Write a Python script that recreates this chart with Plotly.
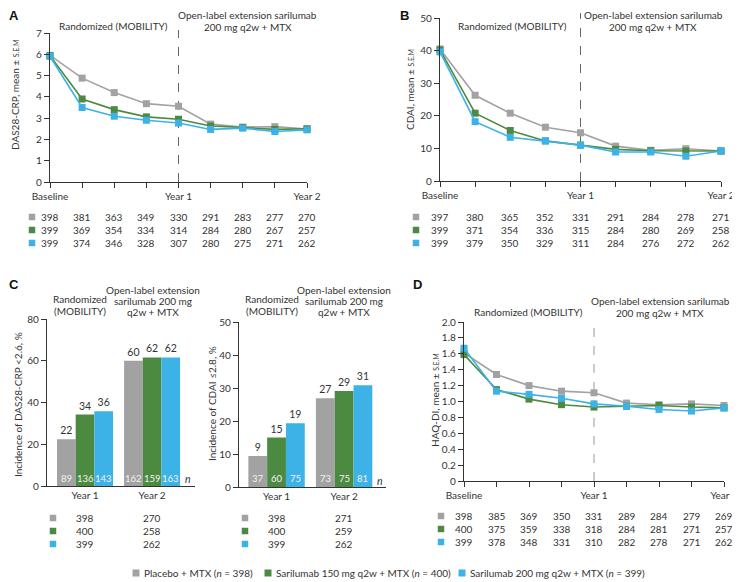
import plotly.graph_objects as go

# The page body adds an 8 px offset; the figure is sized so that it ends at the viewport edge.
OFF = 8
W, H = 740 - OFF, 582 - OFF
FONT = "Lato"
TXT = "#333333"

# ---------------- data ----------------
timepoints = list(range(9))
x_ticktext = ["Baseline", "", "", "", "Year 1", "", "", "", "Year 2"]
year1_idx = 4
groups = ["Placebo + MTX", "Sarilumab 150 mg q2w + MTX", "Sarilumab 200 mg q2w + MTX"]
group_n = [398, 400, 399]
colors = ["#a2a2a2", "#4d8a41", "#3db2e6"]

das_placebo = [5.95, 4.88, 4.20, 3.68, 3.56, 2.72, 2.58, 2.60, 2.49]
das_s150 = [5.93, 3.90, 3.40, 3.06, 2.95, 2.63, 2.56, 2.47, 2.50]
das_s200 = [5.90, 3.50, 3.09, 2.90, 2.77, 2.47, 2.53, 2.37, 2.45]

cdai_placebo = [40.5, 26.3, 20.8, 16.5, 14.8, 10.7, 9.4, 9.9, 9.2]
cdai_s150 = [40.2, 20.8, 15.5, 12.3, 11.0, 9.7, 9.3, 9.2, 9.2]
cdai_s200 = [39.6, 18.2, 13.4, 12.3, 11.0, 8.9, 8.9, 7.6, 9.2]

haq_placebo = [1.61, 1.34, 1.20, 1.13, 1.11, 0.98, 0.96, 0.97, 0.95]
haq_s150 = [1.59, 1.15, 1.03, 0.96, 0.93, 0.94, 0.95, 0.93, 0.92]
haq_s200 = [1.67, 1.13, 1.09, 1.04, 0.97, 0.94, 0.90, 0.88, 0.92]

n_das_placebo = [398, 381, 363, 349, 330, 291, 283, 277, 270]
n_das_s150 = [399, 369, 354, 334, 314, 284, 280, 267, 257]
n_das_s200 = [399, 374, 346, 328, 307, 280, 275, 271, 262]

n_cdai_placebo = [397, 380, 365, 352, 331, 291, 284, 278, 271]
n_cdai_s150 = [399, 371, 354, 336, 315, 284, 280, 269, 258]
n_cdai_s200 = [399, 379, 350, 329, 311, 284, 276, 272, 262]

n_haq_placebo = [398, 385, 369, 350, 331, 289, 284, 279, 269]
n_haq_s150 = [400, 375, 359, 338, 318, 284, 281, 271, 257]
n_haq_s200 = [399, 378, 348, 331, 310, 282, 278, 271, 262]

bar_years = ["Year 1", "Year 2"]
bar_x = [0, 1]
rem_das_placebo = [22.4, 60.0]
rem_das_s150 = [34.2, 61.6]
rem_das_s200 = [35.8, 61.6]
rem_das_n_placebo = [89, 162]
rem_das_n_s150 = [136, 159]
rem_das_n_s200 = [143, 163]
rem_das_N_placebo = [398, 270]
rem_das_N_s150 = [400, 258]
rem_das_N_s200 = [399, 262]

rem_cdai_placebo = [9.4, 26.9]
rem_cdai_s150 = [15.0, 29.1]
rem_cdai_s200 = [19.3, 30.8]
rem_cdai_n_placebo = [37, 73]
rem_cdai_n_s150 = [60, 75]
rem_cdai_n_s200 = [75, 81]
rem_cdai_N_placebo = [398, 271]
rem_cdai_N_s150 = [400, 259]
rem_cdai_N_s200 = [399, 262]

BARGAP = 0.165


def PX(x):
    return (x - OFF) / W


def PY(y):
    return 1 - (y - OFF) / H


fig = go.Figure()
annotations = []
shapes = []


def text(x, y, s, size=10, xanchor="center", color=TXT, xref="paper", angle=0, **kw):
    annotations.append(dict(
        x=PX(x) if xref == "paper" else x, y=PY(y), xref=xref, yref="paper",
        text=s, showarrow=False, xanchor=xanchor, yanchor="middle",
        font=dict(family=FONT, size=size, color=color), textangle=angle, **kw))


def square(cx, cy, color, s=6.5):
    shapes.append(dict(type="rect", xref="paper", yref="paper",
                       x0=PX(cx - s / 2), x1=PX(cx + s / 2),
                       y0=PY(cy + s / 2), y1=PY(cy - s / 2),
                       fillcolor=color, line=dict(width=0)))


axis_common = dict(showline=True, linecolor="#333", linewidth=1.4, ticks="outside",
                   ticklen=5, tickwidth=1.3, tickcolor="#333", showgrid=False,
                   zeroline=False, tickfont=dict(family=FONT, size=10, color=TXT),
                   fixedrange=True, automargin=False)

# ------------- line panels -------------
line_panels = [
    ("x", "y", [das_placebo, das_s150, das_s200]),
    ("x2", "y2", [cdai_placebo, cdai_s150, cdai_s200]),
    ("x5", "y5", [haq_placebo, haq_s150, haq_s200]),
]
for xa, ya, series in line_panels:
    for vals, col, name in zip(series, colors, groups):
        fig.add_trace(go.Scatter(
            x=timepoints, y=vals, xaxis=xa, yaxis=ya, mode="lines+markers",
            line=dict(color=col, width=1.6), name=name, showlegend=False,
            marker=dict(symbol="square", size=7, color=col), cliponaxis=False))

# ------------- bar panels -------------
bar_panels = [
    ("x3", "y3", [rem_das_placebo, rem_das_s150, rem_das_s200]),
    ("x4", "y4", [rem_cdai_placebo, rem_cdai_s150, rem_cdai_s200]),
]
for xa, ya, series in bar_panels:
    for vals, col, name in zip(series, colors, groups):
        fig.add_trace(go.Bar(
            x=bar_x, y=vals, xaxis=xa, yaxis=ya, marker=dict(color=col, line=dict(width=0)),
            name=name, showlegend=False, text=[f"{round(v)}" for v in vals],
            textposition="outside", constraintext="none", cliponaxis=False,
            textfont=dict(family=FONT, size=10.5, color=TXT)))

# n labels inside bars
w = (1 - BARGAP) / 3
for xa, nsets in [("x3", [rem_das_n_placebo, rem_das_n_s150, rem_das_n_s200]),
                  ("x4", [rem_cdai_n_placebo, rem_cdai_n_s150, rem_cdai_n_s200])]:
    ya = "y" + xa[1:]
    for j, ns in enumerate(nsets):
        for i, nv in enumerate(ns):
            annotations.append(dict(x=bar_x[i] + (j - 1) * w, y=0, xref=xa, yref=ya,
                                    yshift=8, text=str(nv), showarrow=False,
                                    yanchor="middle",
                                    font=dict(family=FONT, size=9.5, color="#f2f2f2")))

# ------------- layout axes -------------
lay = {}
lay["xaxis"] = dict(axis_common, domain=[PX(50), PX(307)], range=[0, 8], anchor="y",
                    tickvals=timepoints, ticktext=x_ticktext)
lay["yaxis"] = dict(axis_common, domain=[PY(182), PY(33)], range=[0, 7], dtick=1, anchor="x")
lay["xaxis2"] = dict(axis_common, domain=[PX(440), PX(721)], range=[0, 8], anchor="y2",
                     tickvals=timepoints, ticktext=x_ticktext)
lay["yaxis2"] = dict(axis_common, domain=[PY(181), PY(18)], range=[0, 50], dtick=10, anchor="x2")
lay["xaxis5"] = dict(axis_common, domain=[PX(464), PX(724)], range=[0, 8], anchor="y5",
                     tickvals=timepoints, ticktext=x_ticktext)
lay["yaxis5"] = dict(axis_common, domain=[PY(481), PY(322)], range=[0, 2], anchor="x5",
                     tickvals=[0, 0.2, 0.4, 0.6, 0.8, 1.0, 1.2, 1.4, 1.6, 1.8, 2.0],
                     ticktext=["0", "0.2", "0.4", "0.6", "0.8", "1.0", "1.2", "1.4", "1.6", "1.8", "2.0"])
bar_x_common = dict(axis_common, ticks="", tickvals=bar_x, ticktext=bar_years)
lay["xaxis3"] = dict(bar_x_common, domain=[PX(47), PX(195)], range=[-0.567, 1.64], anchor="y3")
lay["yaxis3"] = dict(axis_common, domain=[PY(486), PY(319)], range=[0, 80], dtick=20, anchor="x3")
lay["xaxis4"] = dict(bar_x_common, domain=[PX(239), PX(386)], range=[-0.556, 1.62], anchor="y4")
lay["yaxis4"] = dict(axis_common, domain=[PY(487), PY(322)], range=[0, 50], dtick=10, anchor="x4")

# ------------- dashed year-1 lines -------------
for xa, ytop, ybot, col in [("x", 30, 182, "#666"), ("x2", 13, 181, "#666"), ("x5", 322, 481, "#999")]:
    shapes.append(dict(type="line", xref=xa, yref="paper", x0=year1_idx, x1=year1_idx,
                       y0=PY(ybot), y1=PY(ytop), line=dict(color=col, width=1, dash="dash"),
                       layer="below"))

# ------------- panel letters -------------
for lx, ly, L in [(14, 16, "A"), (404, 16, "B"), (14, 284, "C"), (417, 285, "D")]:
    annotations.append(dict(x=PX(lx), y=PY(ly), xref="paper", yref="paper", text=f"<b>{L}</b>",
                            showarrow=False, xanchor="center", yanchor="middle",
                            font=dict(family="Liberation Sans", size=13, color="#111")))

# ------------- headers -------------
text(113, 26, "Randomized (MOBILITY)")
text(248, 15, "Open-label extension sarilumab")
text(248, 27, "200 mg q2w + MTX")
text(512, 26, "Randomized (MOBILITY)")
text(653, 15, "Open-label extension sarilumab")
text(653, 27, "200 mg q2w + MTX")
text(528, 312, "Randomized (MOBILITY)")
text(660, 301, "Open-label extension sarilumab")
text(660, 313, "200 mg q2w + MTX")
for cx_r, cx_o in [(80, 153), (272, 344)]:
    text(cx_r, 299, "Randomized")
    text(cx_r, 311, "(MOBILITY)")
    text(cx_o, 290, "Open-label extension")
    text(cx_o, 301, "sarilumab 200 mg")
    text(cx_o, 312, "q2w + MTX")

# ------------- y-axis titles -------------
sem = "mean ± <span style='font-size:7px'>S.E.M</span>"
text(15, 95, "DAS28-CRP, " + sem, angle=-90)
text(410, 90, "CDAI, " + sem, angle=-90)
text(18, 405, "Incidence of DAS28-CRP <2.6, %", angle=-90)
text(212, 403, "Incidence of CDAI ≤2.8, %", angle=-90)
text(435, 400, "HAQ-DI, " + sem, angle=-90)

# ------------- n tables -------------
def table(xref, sq_x, rows_y, rows, xs):
    for ry, row, col in zip(rows_y, rows, colors):
        square(sq_x, ry, col)
        for xv, v in zip(xs, row):
            text(xv, ry, str(v), size=10, xref=xref)


table("x", 32, [217, 230, 243], [n_das_placebo, n_das_s150, n_das_s200], timepoints)
table("x2", 416, [217, 230, 243], [n_cdai_placebo, n_cdai_s150, n_cdai_s200], timepoints)
table("x5", 441, [516, 529, 542], [n_haq_placebo, n_haq_s150, n_haq_s200], timepoints)
table("x3", 53, [518, 531, 544], [rem_das_N_placebo, rem_das_N_s150, rem_das_N_s200], bar_x)
table("x4", 245, [518, 531, 544], [rem_cdai_N_placebo, rem_cdai_N_s150, rem_cdai_N_s200], bar_x)

text(188, 479, "<i>n</i>", size=10.5)
text(380, 481, "<i>n</i>", size=10.5)

# ------------- legend -------------
for sx, name, n, col in zip([136, 268, 462], groups, group_n, colors):
    square(sx, 573, col, s=7)
    text(sx + 6, 573, f"{name} (<i>n</i> = {n})", size=10, xanchor="left")

fig.update_layout(
    width=W, height=H, margin=dict(l=0, r=0, t=0, b=0, autoexpand=False),
    paper_bgcolor="white", plot_bgcolor="white",
    barmode="group", bargap=BARGAP, bargroupgap=0,
    showlegend=False, font=dict(family=FONT, size=10, color=TXT),
    annotations=annotations, shapes=shapes, **lay)

fig.write_html("out.html")
